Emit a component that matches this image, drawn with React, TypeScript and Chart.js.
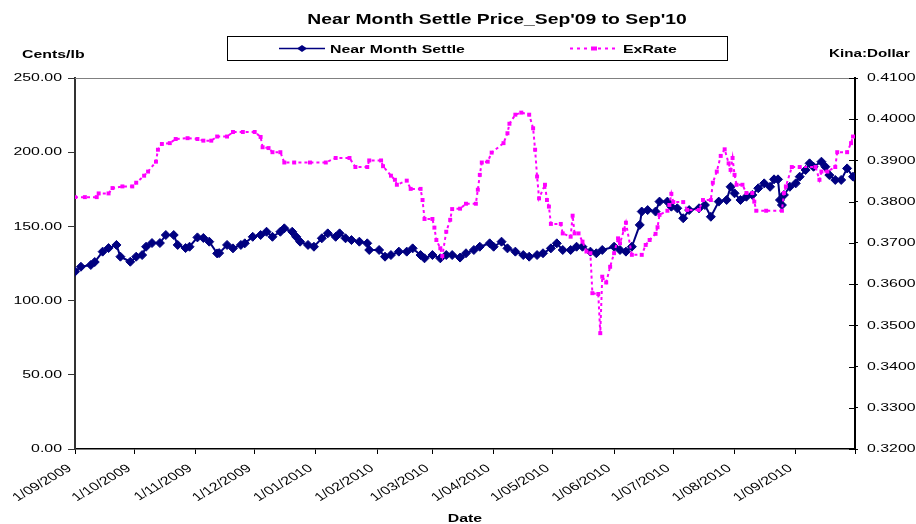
import React, { useEffect, useRef } from "react";
import { Chart, registerables } from "chart.js";

Chart.register(...registerables);

// days since 1 Sep 2009
const monthDay = [0, 30, 61, 91, 122, 153, 181, 212, 242, 273, 303, 334, 365, 395];
const monthLabel = [
  "1/09/2009", "1/10/2009", "1/11/2009", "1/12/2009", "1/01/2010", "1/02/2010",
  "1/03/2010", "1/04/2010", "1/05/2010", "1/06/2010", "1/07/2010", "1/08/2010", "1/09/2010",
];

const settleDay = [
  0, 3, 8, 10, 14, 17, 21, 23, 28, 31, 34, 36, 39, 43, 46, 50, 52, 56, 58, 62, 65, 68, 72, 73, 77, 80,
  84, 86, 90, 94, 97, 100, 104, 106, 110, 112, 114, 118, 121, 125, 128, 132, 134, 137, 140, 144, 148,
  149, 154, 157, 160, 164, 168, 171, 175, 177, 181, 185, 188, 191, 195, 198, 202, 205, 210, 212, 216,
  219, 223, 227, 230, 234, 237, 241, 244, 247, 251, 254, 257, 261, 264, 267, 273, 276, 279, 282, 286,
  287, 290, 294, 296, 300, 302, 305, 308, 311, 316, 319, 322, 326, 330, 332, 334, 337, 340, 343, 346,
  349, 352, 354, 356, 357, 358, 359, 362, 365, 367, 370, 372, 374, 378, 380, 382, 385, 388, 391, 394,
];
const settleValue = [
  119.5, 122.8, 124, 126, 133, 135.4, 137.5, 129.6, 126.2, 129.6, 130.7, 136.3, 138.8, 138.8, 144.2,
  144.2, 137.5, 135.4, 136.3, 142.6, 142.2, 139.7, 131.8, 132, 137.5, 135.2, 137.5, 138.6, 143, 144.2,
  146.4, 143, 146.4, 148.7, 146.4, 143, 139.7, 137.5, 136.3, 142, 145.3, 143, 145.3, 142, 140.8, 139.7,
  138.6, 134.1, 134.1, 129.6, 130.7, 133, 133, 135.2, 130.7, 128.5, 130.7, 128.5, 130.7, 130.7, 129,
  131.9, 134.1, 136.3, 138.6, 136.3, 139.7, 135.2, 133, 130.7, 129.6, 130.7, 131.9, 135.2, 138.6, 134.1,
  134.1, 136.3, 136.3, 133, 131.9, 134.1, 136.3, 134.1, 133, 136.3, 151, 160, 161, 160, 166.7, 166.7,
  163.3, 162.2, 155.5, 161, 162.2, 164.4, 156.5, 166.7, 167.8, 176.7, 172.3, 167.8, 170, 171.2, 175.7,
  179, 176.7, 181.7, 181.7, 167.8, 164.4, 171.2, 176.7, 179, 183.5, 188, 192.5, 190.2, 193.6, 190.2,
  184.6, 181.3, 181.3, 189.1, 183.5,
];

const exDay = [
  0, 5, 11, 12, 17, 19, 24, 29, 31, 35, 37, 41, 42, 44, 48, 51, 57, 62, 65, 69, 72, 77, 80, 85, 91, 94,
  95, 98, 100, 104, 106, 111, 119, 127, 132, 139, 142, 148, 149, 155, 156, 160, 162, 163, 168, 170, 175,
  176, 177, 181, 182, 183, 185, 186, 188, 190, 191, 195, 198, 203, 204, 205, 206, 209, 211, 217, 219,
  220, 223, 226, 230, 232, 233, 234, 235, 238, 239, 240, 241, 246, 247, 251, 252, 253, 255, 257, 259,
  261, 262, 265, 266, 267, 269, 271, 273, 275, 276, 278, 279, 282, 287, 289, 291, 294, 295, 296, 300,
  301, 302, 303, 308, 310, 316, 318, 322, 323, 325, 327, 329, 331, 332, 333, 334, 335, 338, 340, 343,
  344, 345, 350, 358, 359, 360, 363, 367, 375, 377, 378, 381, 385, 386, 391, 393, 394,
];
const exValue = [
  0.3811, 0.3811, 0.3811, 0.382, 0.382, 0.3833, 0.3837, 0.3837, 0.3846, 0.3863, 0.3873, 0.3897, 0.3926,
  0.394, 0.3942, 0.3952, 0.3954, 0.3952, 0.3948, 0.3948, 0.3958, 0.3958, 0.3969, 0.3969, 0.3969, 0.3957,
  0.3932, 0.393, 0.392, 0.392, 0.3895, 0.3895, 0.3895, 0.3895, 0.3906, 0.3906, 0.3884, 0.3884, 0.39,
  0.39, 0.3886, 0.3863, 0.3853, 0.3841, 0.3851, 0.3831, 0.3831, 0.3804, 0.3758, 0.3758, 0.3737, 0.3707,
  0.3687, 0.3668, 0.3727, 0.3756, 0.3782, 0.3783, 0.3795, 0.3795, 0.3829, 0.3865, 0.3895, 0.3897,
  0.3919, 0.3942, 0.3966, 0.3989, 0.4011, 0.4016, 0.4011, 0.3978, 0.3926, 0.3861, 0.3808, 0.3841,
  0.3804, 0.3788, 0.3746, 0.3746, 0.3723, 0.3715, 0.3766, 0.3723, 0.3723, 0.3703, 0.3679, 0.3675,
  0.3578, 0.3576, 0.3481, 0.3618, 0.3604, 0.3642, 0.3675, 0.3711, 0.3699, 0.3732, 0.3749, 0.3671,
  0.3671, 0.3695, 0.3707, 0.3722, 0.3738, 0.3768, 0.3778, 0.3792, 0.3819, 0.3799, 0.3799, 0.378, 0.378,
  0.3804, 0.3804, 0.3846, 0.3873, 0.3911, 0.3927, 0.3893, 0.3877, 0.3906, 0.3865, 0.3841, 0.3841,
  0.3821, 0.3821, 0.38, 0.3778, 0.3778, 0.3778, 0.3821, 0.3837, 0.3884, 0.3884, 0.3884, 0.3853, 0.3873,
  0.3873, 0.3884, 0.392, 0.392, 0.3942, 0.3958,
];

const TITLE = "Near Month Settle Price_Sep'09 to Sep'10";
const SERIES1 = "Near Month Settle";
const SERIES2 = "ExRate";
const LEFT_UNIT = "Cents/lb";
const RIGHT_UNIT = "Kina:Dollar";
const X_TITLE = "Date";

const NAVY = "#000080";
const PINK = "#FF00FF";
const FONT = "'Liberation Sans', Arial, sans-serif";
const SX = 1.38;

function drawText(
  ctx: CanvasRenderingContext2D,
  s: string,
  x: number,
  y: number,
  font: string,
  align: CanvasTextAlign,
  baseline: CanvasTextBaseline,
  rot = 0,
  color = "#000"
) {
  ctx.save();
  ctx.translate(x, y);
  ctx.scale(SX, 1);
  if (rot) ctx.rotate(rot);
  ctx.font = font;
  ctx.textAlign = align;
  ctx.textBaseline = baseline;
  ctx.fillStyle = color;
  ctx.fillText(s, 0, 0);
  ctx.restore();
}

const decorPlugin = {
  id: "decor",
  afterDraw(chart: any) {
    const ctx: CanvasRenderingContext2D = chart.ctx;
    const area = chart.chartArea;
    const sy = chart.scales.y;
    const sy1 = chart.scales.y1;
    const sxs = chart.scales.x;

    // top border of plot area
    ctx.save();
    ctx.strokeStyle = "#808080";
    ctx.lineWidth = 1;
    ctx.beginPath();
    ctx.moveTo(area.left, Math.round(area.top) + 0.5);
    ctx.lineTo(area.right, Math.round(area.top) + 0.5);
    ctx.stroke();

    // right axis inward tick parts
    ctx.strokeStyle = "#000";
    ctx.lineWidth = 1;
    sy1.ticks.forEach((t: any) => {
      const py = Math.round(sy1.getPixelForValue(t.value)) + 0.5;
      ctx.beginPath();
      ctx.moveTo(area.right - 6, py);
      ctx.lineTo(area.right, py);
      ctx.stroke();
    });
    ctx.restore();

    const tickFont = `11.5px ${FONT}`;
    sy.ticks.forEach((t: any) => {
      drawText(ctx, Number(t.value).toFixed(2), 62, sy.getPixelForValue(t.value), tickFont, "right", "middle");
    });
    sy1.ticks.forEach((t: any) => {
      drawText(ctx, Number(t.value).toFixed(4), 867, sy1.getPixelForValue(t.value), tickFont, "left", "middle");
    });
    sxs.ticks.forEach((t: any, i: number) => {
      const lab = monthLabel[i];
      if (!lab) return;
      const px = sxs.getPixelForValue(t.value);
      drawText(ctx, lab, px - 5, 467, tickFont, "right", "middle", (-38.6 * Math.PI) / 180);
    });

    // title & axis titles
    drawText(ctx, TITLE, 497, 24, `bold 14px ${FONT}`, "center", "alphabetic");
    drawText(ctx, LEFT_UNIT, 22, 58, `bold 11.5px ${FONT}`, "left", "alphabetic");
    drawText(ctx, RIGHT_UNIT, 829, 57, `bold 11px ${FONT}`, "left", "alphabetic");
    drawText(ctx, X_TITLE, 465, 522, `bold 11.5px ${FONT}`, "center", "alphabetic");

    // legend
    ctx.save();
    ctx.strokeStyle = "#000";
    ctx.lineWidth = 1;
    ctx.strokeRect(227.5, 36.5, 500, 24);
    const ly = 48.5;
    ctx.strokeStyle = NAVY;
    ctx.lineWidth = 1.5;
    ctx.beginPath();
    ctx.moveTo(279, ly);
    ctx.lineTo(325, ly);
    ctx.stroke();
    ctx.fillStyle = NAVY;
    ctx.beginPath();
    ctx.moveTo(302 - 5, ly);
    ctx.lineTo(302, ly - 3.5);
    ctx.lineTo(302 + 5, ly);
    ctx.lineTo(302, ly + 3.5);
    ctx.closePath();
    ctx.fill();
    ctx.strokeStyle = PINK;
    ctx.lineWidth = 2;
    ctx.setLineDash([3, 4]);
    ctx.beginPath();
    ctx.moveTo(570, ly);
    ctx.lineTo(618, ly);
    ctx.stroke();
    ctx.setLineDash([]);
    ctx.fillStyle = PINK;
    ctx.fillRect(591, ly - 2, 6, 4);
    ctx.restore();
    drawText(ctx, SERIES1, 330, 53, `bold 11.5px ${FONT}`, "left", "alphabetic");
    drawText(ctx, SERIES2, 623, 53, `bold 11.5px ${FONT}`, "left", "alphabetic");
  },
};

export default function App() {
  const ref = useRef<HTMLCanvasElement | null>(null);
  useEffect(() => {
    if (!ref.current) return;
    const chart = new Chart(ref.current, {
      type: "line",
      data: {
        datasets: [
          {
            label: SERIES1,
            data: settleDay.map((d, i) => ({ x: d, y: settleValue[i] })),
            yAxisID: "y",
            borderColor: NAVY,
            backgroundColor: NAVY,
            borderWidth: 2,
            pointStyle: "rectRot",
            pointRadius: 4.5,
            pointBackgroundColor: NAVY,
            pointBorderColor: NAVY,
            pointBorderWidth: 1,
            tension: 0,
            order: 2,
          },
          {
            label: SERIES2,
            data: exDay.map((d, i) => ({ x: d, y: exValue[i] })),
            yAxisID: "y1",
            borderColor: PINK,
            backgroundColor: PINK,
            borderWidth: 2,
            borderDash: [3, 3],
            pointStyle: "rect",
            pointRadius: 2.8,
            pointBackgroundColor: PINK,
            pointBorderWidth: 0,
            tension: 0,
            order: 1,
          },
        ],
      },
      options: {
        animation: false,
        responsive: false,
        devicePixelRatio: 1,
        layout: { padding: { top: 78, left: 0, right: 0, bottom: 0 } },
        plugins: {
          legend: { display: false },
          tooltip: { enabled: false },
          title: { display: false },
        },
        scales: {
          x: {
            type: "linear",
            min: 0,
            max: 395,
            afterBuildTicks: (s: any) => {
              s.ticks = monthDay.map((v) => ({ value: v }));
            },
            afterFit: (s: any) => {
              s.height = 75;
            },
            ticks: { display: false },
            grid: { drawOnChartArea: false, drawTicks: true, tickLength: 5, tickColor: "#000", tickWidth: 1 },
            border: { display: true, color: "#000", width: 1.5 },
          },
          y: {
            position: "left",
            min: 0,
            max: 250,
            ticks: { display: false, stepSize: 50 },
            afterFit: (s: any) => {
              s.width = 75;
            },
            grid: { drawOnChartArea: false, drawTicks: true, tickLength: 7, tickColor: "#333", tickWidth: 1 },
            border: { display: true, color: "#333", width: 2 },
          },
          y1: {
            position: "right",
            min: 0.32,
            max: 0.41,
            ticks: { display: false, stepSize: 0.01 },
            afterFit: (s: any) => {
              s.width = 61;
            },
            grid: { drawOnChartArea: false, drawTicks: true, tickLength: 3, tickColor: "#000", tickWidth: 1 },
            border: { display: true, color: "#000", width: 2 },
          },
        },
      } as any,
      plugins: [decorPlugin],
    });
    return () => chart.destroy();
  }, []);
  return (
    <div style={{ position: "absolute", left: 0, top: 0, width: 916, height: 524, background: "#fff" }}>
      <canvas ref={ref} width={916} height={524} />
    </div>
  );
}
